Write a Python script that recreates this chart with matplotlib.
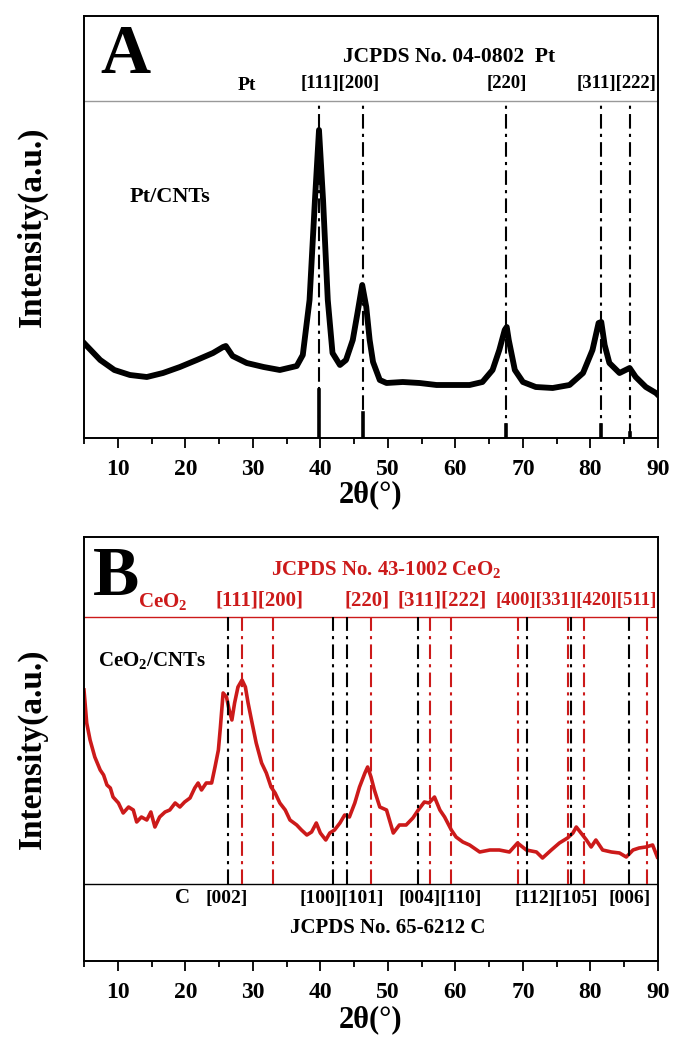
import numpy as np
import matplotlib.pyplot as plt
from matplotlib.ticker import MultipleLocator

plt.rcParams['font.family'] = ['Liberation Serif', 'DejaVu Serif']
plt.rcParams['font.weight'] = 'bold'
plt.rcParams['mathtext.fontset'] = 'custom'
plt.rcParams['mathtext.rm'] = 'Liberation Serif:bold'
plt.rcParams['mathtext.bf'] = 'Liberation Serif:bold'

# panel A: Pt/CNTs pattern
pt_x = [5.0, 7.4, 9.5, 11.8, 14.3, 16.7, 19.2, 21.7, 24.1, 25.6, 26.0, 27.0,
        29.1, 31.6, 34.0, 36.5, 37.4, 38.4, 39.2, 39.8, 40.4, 41.1, 41.8, 42.9,
        43.8, 44.8, 45.5, 46.2, 46.8, 47.3, 47.8, 48.8, 49.8, 52.2, 54.7, 57.2,
        59.6, 62.1, 64.0, 65.5, 66.5, 67.3, 67.6, 67.9, 68.8, 70.0, 71.9, 74.4,
        76.9, 78.9, 80.3, 81.2, 81.6, 82.1, 82.8, 84.3, 85.8, 86.7, 88.2, 89.7, 90.0]
pt_y = [95, 78, 68, 63, 61, 65, 71, 78, 85, 91, 92, 82,
        75, 71, 68, 72, 83, 138, 238, 308, 238, 138, 85, 73,
        78, 98, 125, 153, 131, 98, 76, 58, 55, 56, 55, 53,
        53, 53, 56, 68, 88, 108, 111, 98, 68, 56, 51, 50,
        53, 65, 88, 115, 116, 93, 75, 65, 70, 61, 51, 45, 43]
pt_ref = [39.8, 46.3, 67.5, 81.5, 85.9]
pt_stick = [48, 25, 13, 13, 5]

# panel B: CeO2/CNTs pattern
ce_x = [5.0, 5.4, 5.9, 6.6, 7.4, 7.9, 8.4, 8.9, 9.3, 10.1, 10.8, 11.6,
        12.3, 12.8, 13.5, 14.3, 14.9, 15.5, 16.2, 17.0, 17.7, 18.5, 19.2, 19.9,
        20.7, 21.4, 21.9, 22.4, 23.1, 23.9, 24.4, 24.9, 25.2, 25.6, 26.1, 26.5,
        26.9, 27.3, 27.8, 28.4, 28.9, 29.3, 29.8, 30.5, 31.3, 32.0, 32.7, 33.3,
        34.0, 34.8, 35.5, 36.5, 37.2, 38.0, 38.7, 39.4, 40.0, 40.8, 41.4, 42.1,
        42.9, 43.6, 44.3, 45.1, 45.8, 46.6, 47.0, 47.5, 48.0, 48.8, 49.8, 50.8,
        51.7, 52.7, 53.7, 54.5, 55.4, 56.1, 56.9, 57.7, 58.4, 59.4, 60.1, 61.1,
        62.1, 63.6, 65.1, 66.5, 68.0, 69.2, 70.5, 72.0, 72.9, 74.2, 75.4, 76.6,
        77.4, 77.9, 78.6, 79.4, 80.1, 80.8, 81.8, 83.1, 84.3, 85.3, 86.3, 87.2,
        88.2, 89.2, 89.9]
ce_y = [271, 238, 221, 204, 191, 186, 176, 173, 164, 158, 148, 154,
        151, 139, 144, 141, 149, 134, 144, 149, 151, 158, 154, 159,
        163, 173, 178, 171, 178, 178, 194, 211, 234, 268, 264, 251,
        241, 258, 274, 281, 274, 258, 241, 218, 198, 188, 174, 168,
        158, 151, 141, 136, 131, 126, 129, 138, 128, 121, 128, 131,
        138, 146, 144, 158, 174, 188, 194, 184, 171, 154, 151, 128,
        136, 136, 143, 151, 159, 158, 164, 151, 144, 131, 124, 119,
        116, 109, 111, 111, 109, 118, 111, 109, 103, 111, 118, 123,
        128, 134, 128, 121, 114, 121, 111, 109, 108, 104, 111, 113,
        114, 116, 104]
ceo2_ref = [28.4, 33.0, 47.5, 56.2, 59.4, 69.3, 76.7, 79.0, 88.3]
c_ref = [26.3, 41.9, 43.9, 54.4, 70.6, 77.1, 85.7]

red = '#cc1a1a'
dashdot = (0, (7, 2.5, 1.5, 2.5))

fig = plt.figure(figsize=(6.73, 10.39), dpi=100)
axA = fig.add_axes([84/673, 1-438/1039, 574/673, 422/1039])
axB = fig.add_axes([84/673, 1-961/1039, 574/673, 424/1039])

for ax, lp in ((axA, 0), (axB, 2)):
    ax.set_xlim(5, 90)
    ax.xaxis.set_major_locator(MultipleLocator(10))
    ax.xaxis.set_minor_locator(MultipleLocator(5))
    ax.tick_params(axis='x', which='major', direction='out', length=7, width=1.3,
                   labelsize=17, pad=8)
    ax.tick_params(axis='x', which='minor', direction='out', length=4, width=1.3)
    ax.set_yticks([])
    for s in ax.spines.values():
        s.set_linewidth(1.4)
    ax.set_xlabel('2θ(°)', fontsize=22, fontweight='bold', labelpad=lp)
    ax.set_ylabel('Intensity(a.u.)', fontsize=24, fontweight='bold', labelpad=26)

# ---- A ----
axA.set_ylim(0, 422)
axA.axhline(337, color='#999999', lw=1.0)
axA.plot(pt_x, pt_y, color='black', lw=4.2, solid_joinstyle='round')
for xr, h in zip(pt_ref, pt_stick):
    axA.plot([xr, xr], [0, 337], color='black', lw=1.5, linestyle=dashdot)
    axA.plot([xr, xr], [0, h], color='black', lw=2.6)
axA.text(7.4, 382, 'A', fontsize=50, fontweight='bold', va='center', ha='left')
axA.text(59.0, 381, 'JCPDS No. 04-0802  Pt', fontsize=15.5, ha='center', va='center')
axA.text(29.1, 352, 'Pt', fontsize=14, ha='center', va='center')
axA.text(43.0, 354, '[111][200]', fontsize=13.5, ha='center', va='center')
axA.text(67.6, 354, '[220]', fontsize=13.5, ha='center', va='center')
axA.text(83.8, 354, '[311][222]', fontsize=13.5, ha='center', va='center')
axA.text(11.7, 241, 'Pt/CNTs', fontsize=16, ha='left', va='center')

# ---- B ----
axB.set_ylim(0, 424)
axB.axhline(344, color=red, lw=1.0)
axB.axhline(77, color='black', lw=1.0)
axB.plot(ce_x, ce_y, color=red, lw=2.6, solid_joinstyle='round')
for xr in c_ref:
    axB.plot([xr, xr], [77, 344], color='black', lw=1.5, linestyle=dashdot)
for xr in ceo2_ref:
    axB.plot([xr, xr], [77, 344], color=red, lw=1.5, linestyle=dashdot)
axB.text(6.3, 383, 'B', fontsize=50, fontweight='bold', va='center', ha='left')
axB.text(49.7, 391, r'JCPDS No. 43-1002 CeO$_{2}$', fontsize=15, color=red,
         ha='center', va='center')
axB.text(16.7, 359, r'CeO$_{2}$', fontsize=15, color=red, ha='center', va='center')
axB.text(31.0, 361, '[111][200]', fontsize=15, color=red, ha='center', va='center')
axB.text(46.9, 361, '[220]', fontsize=15, color=red, ha='center', va='center')
axB.text(58.0, 361, '[311][222]', fontsize=15, color=red, ha='center', va='center')
axB.text(77.9, 361, '[400][331][420][511]', fontsize=13.5, color=red,
         ha='center', va='center')
axB.text(7.1, 300, r'CeO$_{2}$/CNTs', fontsize=15, ha='left', va='center')
axB.text(19.6, 63, 'C', fontsize=15, ha='center', va='center')
axB.text(26.2, 63, '[002]', fontsize=14, ha='center', va='center')
axB.text(43.2, 63, '[100][101]', fontsize=14, ha='center', va='center')
axB.text(57.7, 63, '[004][110]', fontsize=14, ha='center', va='center')
axB.text(75.0, 63, '[112][105]', fontsize=14, ha='center', va='center')
axB.text(85.8, 63, '[006]', fontsize=14, ha='center', va='center')
axB.text(50.0, 33, 'JCPDS No. 65-6212 C', fontsize=15, ha='center', va='center')

fig.savefig('out.png', dpi=100)
